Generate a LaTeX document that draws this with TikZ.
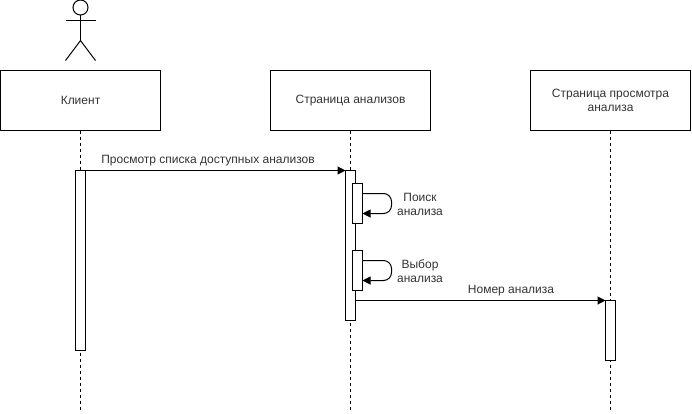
\documentclass[tikz,border=0pt]{standalone}
\usepackage{fontspec}
\setmainfont{Liberation Sans}
\usetikzlibrary{arrows.meta}
\tikzset{
  pagebox/.style={shape=rectangle, draw=black, line width=1pt, minimum width=160pt, minimum height=60pt, inner sep=0pt, outer sep=0pt, align=center, text=black!80},
  activation/.style={shape=rectangle, draw=black, fill=white, line width=1pt, minimum width=10pt, inner sep=0pt, outer sep=0pt, anchor=north},
  msg/.style={-{Triangle[length=8pt,width=8pt]}, line width=1pt, draw=black},
  lifeline/.style={line width=1pt, draw=black, dash pattern=on 3pt off 3pt},
  msglabel/.style={inner sep=0pt, align=center, text=black!80}
}
\begin{document}
\begin{tikzpicture}[x=1pt, y=-1pt, font=\fontsize{12pt}{14pt}\selectfont]
\useasboundingbox (0,0) rectangle (692,413);
% actor
\node[shape=circle, draw=black, line width=1pt, minimum size=15pt, inner sep=0pt, outer sep=0pt] (head) at (80.5,7.5) {};
\coordinate (armL) at (65.5,20.5);
\coordinate (armR) at (95.5,20.5);
\coordinate (hip) at (80.5,40.5);
\coordinate (legL) at (65.5,60.5);
\coordinate (legR) at (95.5,60.5);
\draw[line width=1pt] (head) -- (hip);
\draw[line width=1pt] (armL) -- (armR);
\draw[line width=1pt] (legL) -- (hip) -- (legR);
% headers
\node[pagebox] (client) at (80.5,100.5) {Клиент};
\node[pagebox] (list) at (350.5,100.5) {Страница анализов};
\node[pagebox] (view) at (610.5,100.5) {Страница просмотра\\анализа};
% lifelines
\coordinate (endClient) at (80.5,410);
\coordinate (endList) at (350.5,410);
\coordinate (endView) at (610.5,410);
\draw[lifeline] (client) -- (endClient);
\draw[lifeline] (list) -- (endList);
\draw[lifeline] (view) -- (endView);
% activations
\node[activation, minimum height=180pt] (actClient) at (80.5,170.5) {};
\node[activation, minimum height=150pt] (actList) at (350.5,170.5) {};
\node[activation, minimum height=60pt] (actView) at (610.5,300.5) {};
\node[activation, minimum height=40pt] (actSearch) at (357.5,183.5) {};
\node[activation, minimum height=40pt] (actPick) at (357.5,250.5) {};
% messages
\coordinate (fromList) at (355.5,300.5);
\draw[msg] (actClient.north east) -- (actList.north west);
\draw[msg] (fromList) -- (actView.north west);
\draw[msg, rounded corners=8pt] ([yshift=-10pt]actSearch.north east) -- ++(29,0) -- ++(0,20) -- ([yshift=-30pt]actSearch.north east);
\draw[msg, rounded corners=8pt] ([yshift=-10pt]actPick.north east) -- ++(29,0) -- ++(0,20) -- ([yshift=-30pt]actPick.north east);
% labels
\node[msglabel] (lblList) at (208,160.5) {Просмотр списка доступных анализов};
\node[msglabel] (lblSearch) at (420,204) {Поиск\\анализа};
\node[msglabel] (lblPick) at (420,271) {Выбор\\анализа};
\node[msglabel] (lblNumber) at (511,290.5) {Номер анализа};
\end{tikzpicture}
\end{document}
